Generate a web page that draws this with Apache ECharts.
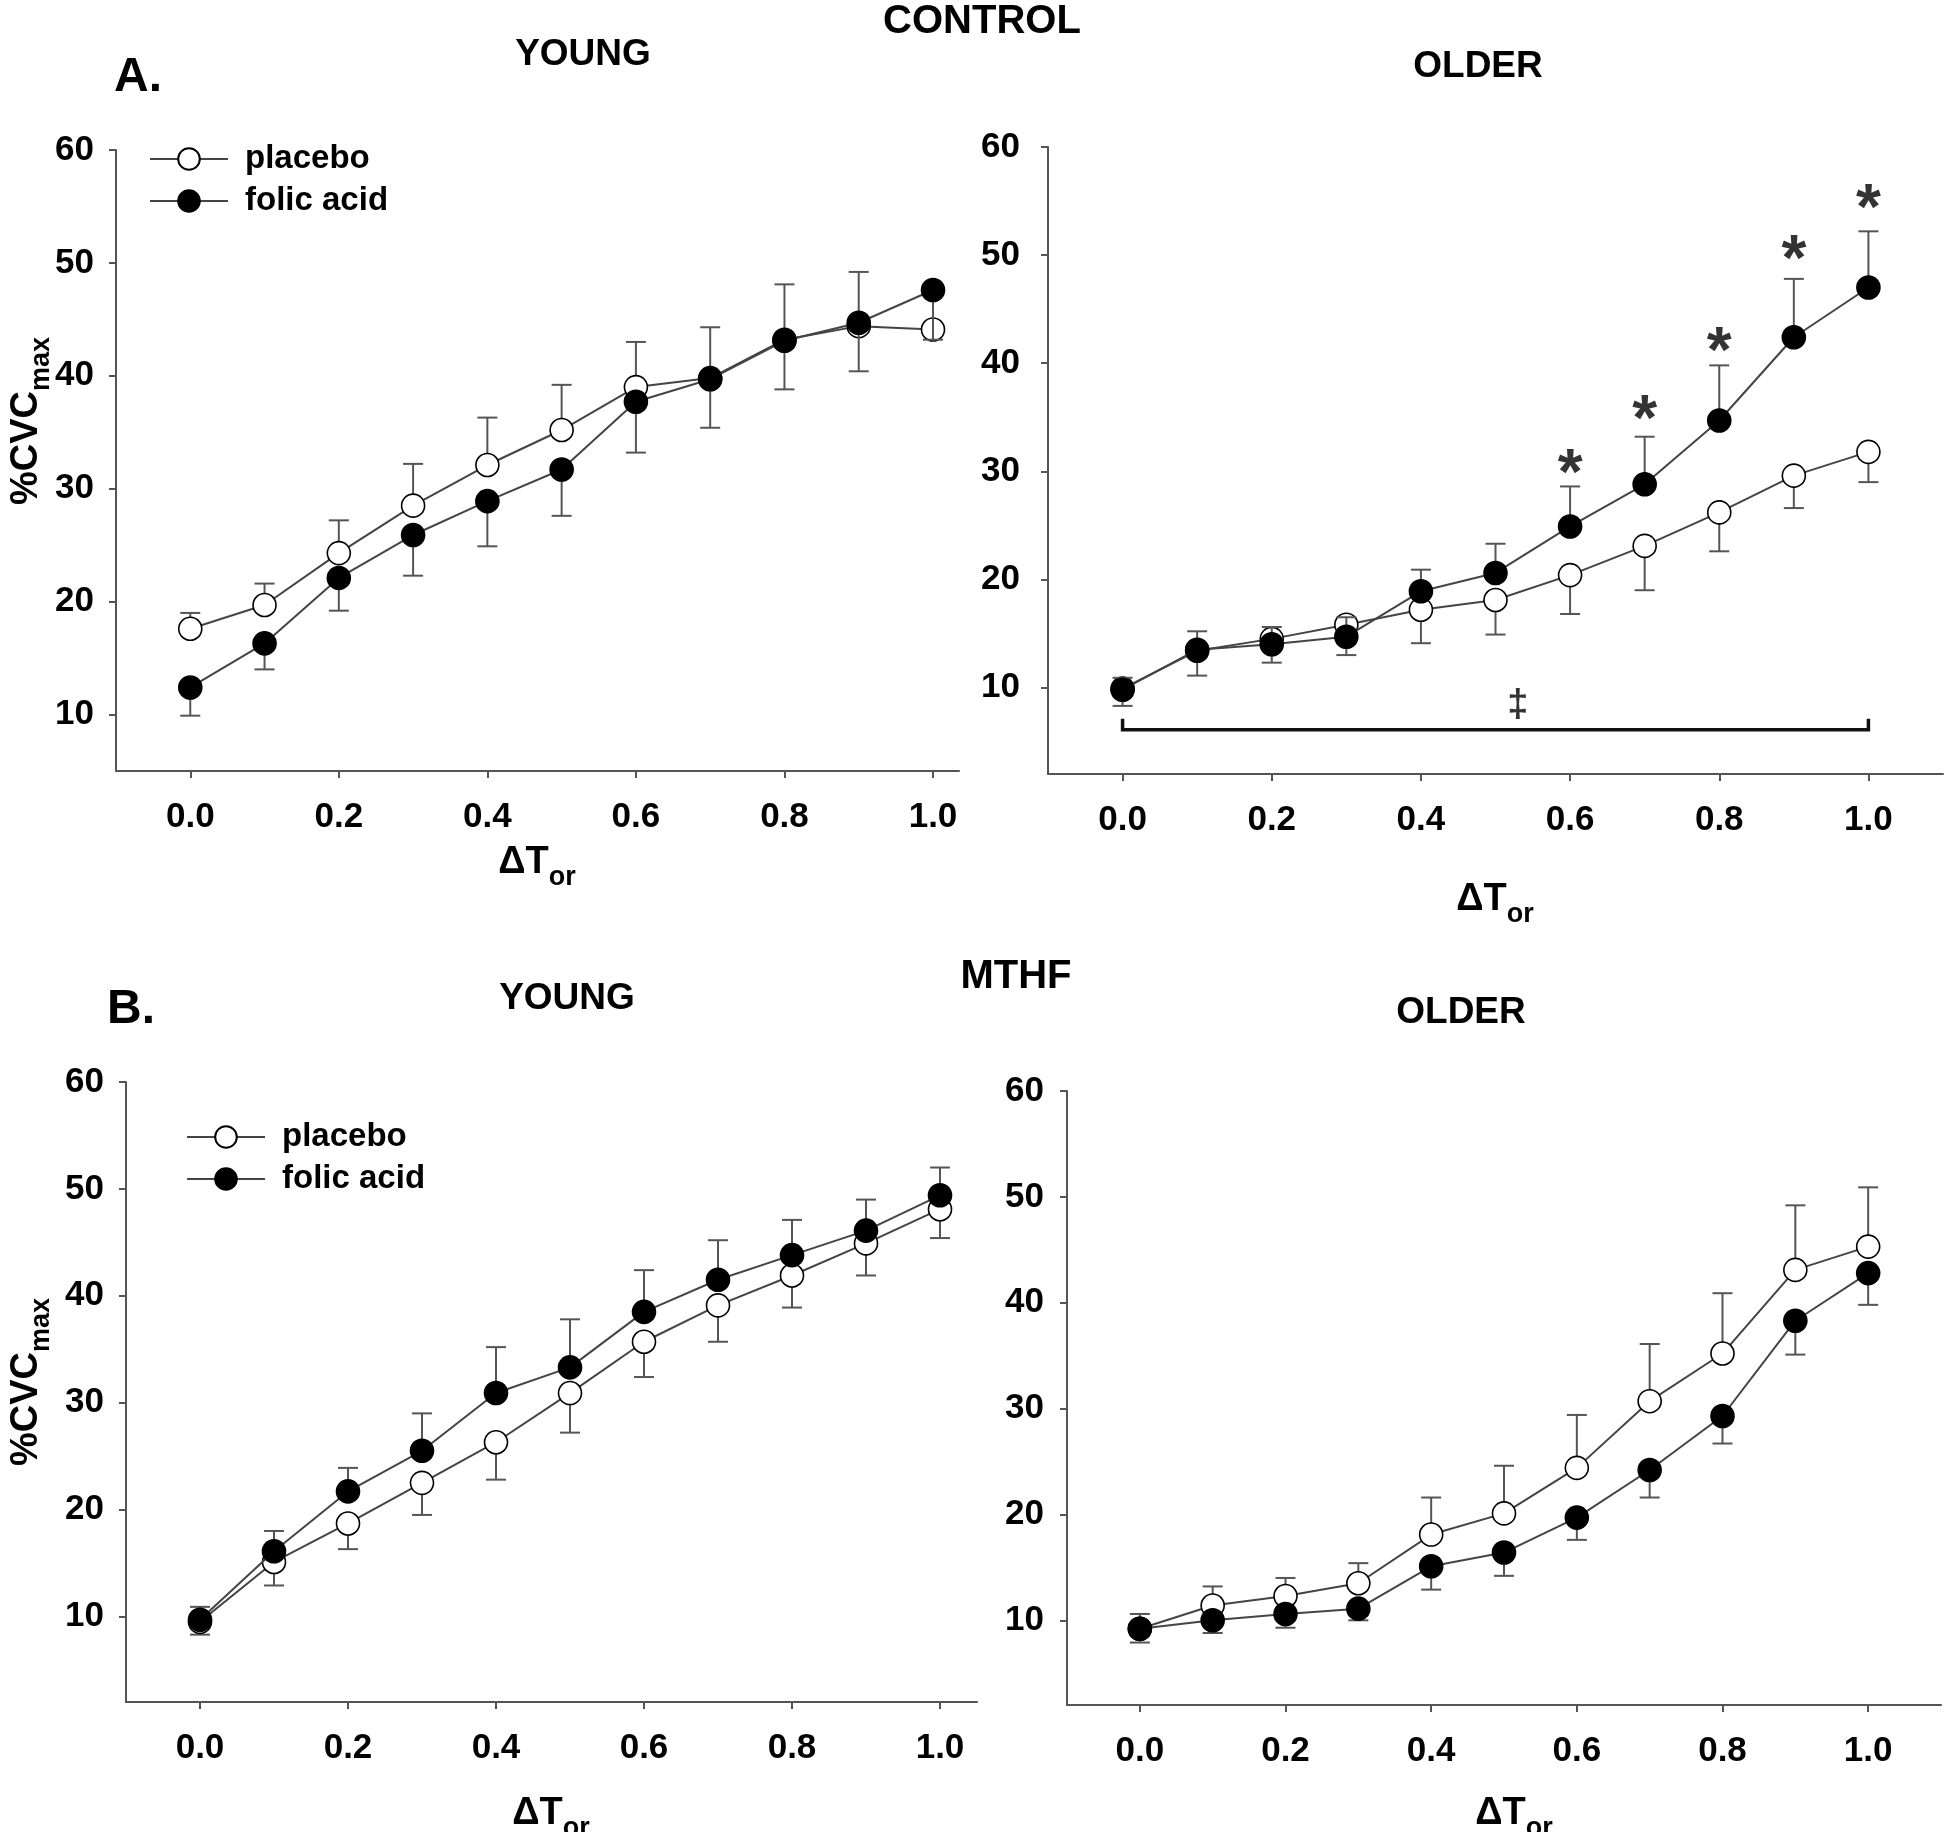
<!DOCTYPE html>
<html><head><meta charset="utf-8">
<script src="https://cdn.jsdelivr.net/npm/echarts@6/dist/echarts.min.js"></script>
<style>html,body{margin:0;padding:0;background:#fff}#c{width:1950px;height:1832px}</style>
</head><body><div id="c"></div><script>
// ---------- data ----------
const dT = [0.0, 0.1, 0.2, 0.3, 0.4, 0.5, 0.6, 0.7, 0.8, 0.9, 1.0];
const xTickValues = [0.0, 0.2, 0.4, 0.6, 0.8, 1.0];
const yTickValues = [10, 20, 30, 40, 50, 60];

// A. CONTROL - YOUNG
const ctrlYoungPlacebo    = [17.6, 19.7, 24.3, 28.5, 32.1, 35.2, 39.0, 39.8, 43.2, 44.4, 44.1];
const ctrlYoungPlaceboErr = [19.0, 21.6, 27.2, 32.2, 36.3, 39.2, 43.0, 44.3, 48.1, 49.2, 44.6];
const ctrlYoungFolic      = [12.4, 16.3, 22.1, 25.9, 28.9, 31.7, 37.7, 39.7, 43.1, 44.7, 47.6];
const ctrlYoungFolicErr   = [9.9, 14.0, 19.2, 22.3, 24.9, 27.6, 33.2, 35.4, 38.8, 40.4, 43.2];

// A. CONTROL - OLDER
const ctrlOlderPlacebo    = [9.9, 13.4, 14.5, 15.8, 17.2, 18.1, 20.4, 23.1, 26.2, 29.6, 31.8];
const ctrlOlderPlaceboErr = [8.3, 11.1, 12.3, 13.0, 14.1, 14.9, 16.8, 19.0, 22.6, 26.6, 29.0];
const ctrlOlderFolic      = [9.8, 13.5, 14.0, 14.7, 18.9, 20.6, 24.9, 28.8, 34.7, 42.4, 47.0];
const ctrlOlderFolicErr   = [10.9, 15.2, 15.6, 16.5, 20.9, 23.3, 28.6, 33.2, 39.8, 47.8, 52.2];
const starX = [0.6, 0.7, 0.8, 0.9, 1.0];
const starY = [31.0, 36.0, 42.3, 50.8, 55.5];
const bracketFrom = 0.0, bracketTo = 1.0, bracketLevel = 6.1, bracketTickTop = 7.1;
const daggerX = 0.53, daggerY = 8.3;

// B. MTHF - YOUNG
const mthfYoungPlacebo    = [9.5, 15.1, 18.7, 22.5, 26.3, 30.9, 35.7, 39.1, 41.9, 44.9, 48.1];
const mthfYoungPlaceboErr = [8.3, 12.9, 16.3, 19.5, 22.8, 27.2, 32.4, 35.7, 38.9, 41.9, 45.4];
const mthfYoungFolic      = [9.7, 16.1, 21.7, 25.5, 30.9, 33.3, 38.5, 41.5, 43.8, 46.1, 49.4];
const mthfYoungFolicErr   = [10.9, 18.0, 23.9, 29.0, 35.2, 37.8, 42.4, 45.2, 47.1, 49.0, 52.0];

// B. MTHF - OLDER
const mthfOlderPlacebo    = [9.2, 11.4, 12.3, 13.5, 18.1, 20.1, 24.4, 30.7, 35.2, 43.1, 45.3];
const mthfOlderPlaceboErr = [10.6, 13.2, 14.0, 15.4, 21.6, 24.6, 29.4, 36.1, 40.9, 49.2, 50.9];
const mthfOlderFolic      = [9.2, 10.0, 10.6, 11.1, 15.1, 16.4, 19.7, 24.2, 29.3, 38.3, 42.8];
const mthfOlderFolicErr   = [7.9, 8.8, 9.3, 10.0, 12.9, 14.2, 17.6, 21.6, 26.7, 35.1, 39.8];

// ---------- layout / style ----------
const FONT = '"Liberation Sans", Arial, Helvetica, sans-serif';
const AX = '#555';
const INK = '#000';
const grids = [
  {left: 116, top: 150, width: 843, height: 621},
  {left: 1048, top: 147, width: 895, height: 627},
  {left: 126, top: 1082, width: 851, height: 620},
  {left: 1067, top: 1091, width: 874, height: 614}
];
const xRanges = [[-0.1, 1.035], [-0.1, 1.1], [-0.1, 1.05], [-0.1, 1.1]];
const yRanges = [[5, 60], [2, 60], [2, 60], [2, 60]];
const yLabelMargins = [22, 28, 22, 23];

const xAxes = grids.map((g, i) => ({
  gridIndex: i, type: 'value', min: xRanges[i][0], max: xRanges[i][1],
  axisLine: {show: true, onZero: false, lineStyle: {color: AX, width: 2}},
  axisTick: {show: true, length: 7, customValues: xTickValues, lineStyle: {color: AX, width: 2}},
  axisLabel: {customValues: xTickValues, formatter: v => v.toFixed(1), margin: 29,
    fontSize: 35, fontWeight: 'bold', color: INK, fontFamily: FONT},
  splitLine: {show: false}
}));
const yAxes = grids.map((g, i) => ({
  gridIndex: i, type: 'value', min: yRanges[i][0], max: yRanges[i][1],
  axisLine: {show: true, onZero: false, lineStyle: {color: AX, width: 2}},
  axisTick: {show: true, length: 7, customValues: yTickValues, lineStyle: {color: AX, width: 2}},
  axisLabel: {customValues: yTickValues, margin: yLabelMargins[i],
    fontSize: 35, fontWeight: 'bold', color: INK, fontFamily: FONT},
  splitLine: {show: false}
}));

function lineSeries(i, name, vals, filled, z) {
  return {
    type: 'line', name, xAxisIndex: i, yAxisIndex: i, z,
    data: dT.map((x, k) => [x, vals[k]]),
    symbol: 'circle', symbolSize: 23, showSymbol: true,
    lineStyle: {color: '#444', width: 2},
    itemStyle: {color: filled ? '#000' : '#fff', borderColor: '#000', borderWidth: 1.6},
    emphasis: {disabled: true}, silent: true
  };
}
function errSeries(i, vals, ends, z) {
  return {
    type: 'custom', xAxisIndex: i, yAxisIndex: i, z, silent: true,
    data: dT.map((x, k) => [x, vals[k], ends[k]]),
    encode: {x: 0, y: [1, 2]},
    renderItem: (params, api) => {
      const p0 = api.coord([api.value(0), api.value(1)]);
      const p1 = api.coord([api.value(0), api.value(2)]);
      return {type: 'group', children: [
        {type: 'line', shape: {x1: p0[0], y1: p0[1], x2: p1[0], y2: p1[1]}, style: {stroke: '#555', lineWidth: 2}},
        {type: 'line', shape: {x1: p1[0] - 10, y1: p1[1], x2: p1[0] + 10, y2: p1[1]}, style: {stroke: '#555', lineWidth: 2}}
      ]};
    }
  };
}
function panel(i, plc, plcErr, fol, folErr) {
  return [
    errSeries(i, plc, plcErr, 2),
    lineSeries(i, 'placebo', plc, false, 3),
    errSeries(i, fol, folErr, 4),
    lineSeries(i, 'folic acid', fol, true, 5)
  ];
}

const series = [].concat(
  panel(0, ctrlYoungPlacebo, ctrlYoungPlaceboErr, ctrlYoungFolic, ctrlYoungFolicErr),
  panel(1, ctrlOlderPlacebo, ctrlOlderPlaceboErr, ctrlOlderFolic, ctrlOlderFolicErr),
  panel(2, mthfYoungPlacebo, mthfYoungPlaceboErr, mthfYoungFolic, mthfYoungFolicErr),
  panel(3, mthfOlderPlacebo, mthfOlderPlaceboErr, mthfOlderFolic, mthfOlderFolicErr)
);
// significance asterisks
series.push({
  type: 'scatter', xAxisIndex: 1, yAxisIndex: 1, z: 6, silent: true,
  data: starX.map((x, k) => [x, starY[k]]),
  symbol: 'circle', symbolSize: 2, itemStyle: {color: 'rgba(0,0,0,0)'},
  label: {show: true, formatter: '*', position: 'inside', offset: [0, 16],
    fontSize: 64, fontWeight: 'bold', color: INK, fontFamily: FONT}
});
// bracket
series.push({
  type: 'custom', xAxisIndex: 1, yAxisIndex: 1, z: 6, silent: true,
  data: [[bracketFrom, bracketTo, bracketLevel, bracketTickTop]],
  encode: {x: [0, 1], y: [2, 3]},
  renderItem: (params, api) => {
    const a = api.coord([api.value(0), api.value(3)]);
    const b = api.coord([api.value(0), api.value(2)]);
    const c = api.coord([api.value(1), api.value(2)]);
    const d = api.coord([api.value(1), api.value(3)]);
    return {type: 'polyline', shape: {points: [a, b, c, d]}, style: {stroke: '#111', lineWidth: 3.5, fill: null}};
  }
});
// double dagger
series.push({
  type: 'scatter', xAxisIndex: 1, yAxisIndex: 1, z: 6, silent: true,
  data: [[daggerX, daggerY]],
  symbol: 'circle', symbolSize: 2, itemStyle: {color: 'rgba(0,0,0,0)'},
  label: {show: true, formatter: '\u2021', position: 'inside',
    fontSize: 38, fontWeight: 'bold', color: INK, fontFamily: FONT}
});

function legendAt(left, top) {
  return {
    data: ['placebo', 'folic acid'], orient: 'vertical', left, top,
    itemWidth: 78, itemHeight: 27, itemGap: 6, selectedMode: false,
    textStyle: {fontSize: 33, fontWeight: 'bold', color: INK, fontFamily: FONT, lineHeight: 36, padding: [0, 0, 0, 12]}
  };
}

function txt(text, x, y, size) {
  return {type: 'text', x, y, silent: true, style: {text, fill: INK, font: 'bold ' + size + 'px ' + FONT, textAlign: 'center', textVerticalAlign: 'middle'}};
}
const richX = {
  a: {fontSize: 38, fontWeight: 'bold', fontFamily: FONT, fill: INK, lineHeight: 38, verticalAlign: 'top'},
  b: {fontSize: 27, fontWeight: 'bold', fontFamily: FONT, fill: INK, lineHeight: 27, padding: [20, 0, 0, 0], verticalAlign: 'top'}
};
function subTxt(main, sub, x, y, rot) {
  return {type: 'text', x, y, rotation: rot || 0, silent: true,
    style: {text: '{a|' + main + '}{b|' + sub + '}', rich: richX, textAlign: 'center', textVerticalAlign: 'middle'}};
}

const graphic = [
  txt('CONTROL', 982, 22, 40),
  txt('A.', 138, 78, 48),
  txt('YOUNG', 583, 55, 37),
  txt('OLDER', 1478, 67, 37),
  txt('MTHF', 1016, 977, 40),
  txt('B.', 131, 1010, 48),
  txt('YOUNG', 567, 999, 37),
  txt('OLDER', 1461, 1013, 37),
  subTxt('%CVC', 'max', 27, 421, Math.PI / 2),
  subTxt('%CVC', 'max', 27, 1382, Math.PI / 2),
  subTxt('\u0394T', 'or', 537, 863),
  subTxt('\u0394T', 'or', 1495, 900),
  subTxt('\u0394T', 'or', 551, 1814),
  subTxt('\u0394T', 'or', 1514, 1814)
];

const chart = echarts.init(document.getElementById('c'));
chart.setOption({
  animation: false,
  backgroundColor: '#fff',
  grid: grids.map(g => Object.assign({outerBoundsMode: 'none', containLabel: false}, g)),
  xAxis: xAxes, yAxis: yAxes,
  legend: [legendAt(144, 136), legendAt(181, 1114)],
  series, graphic
});
</script></body></html>
